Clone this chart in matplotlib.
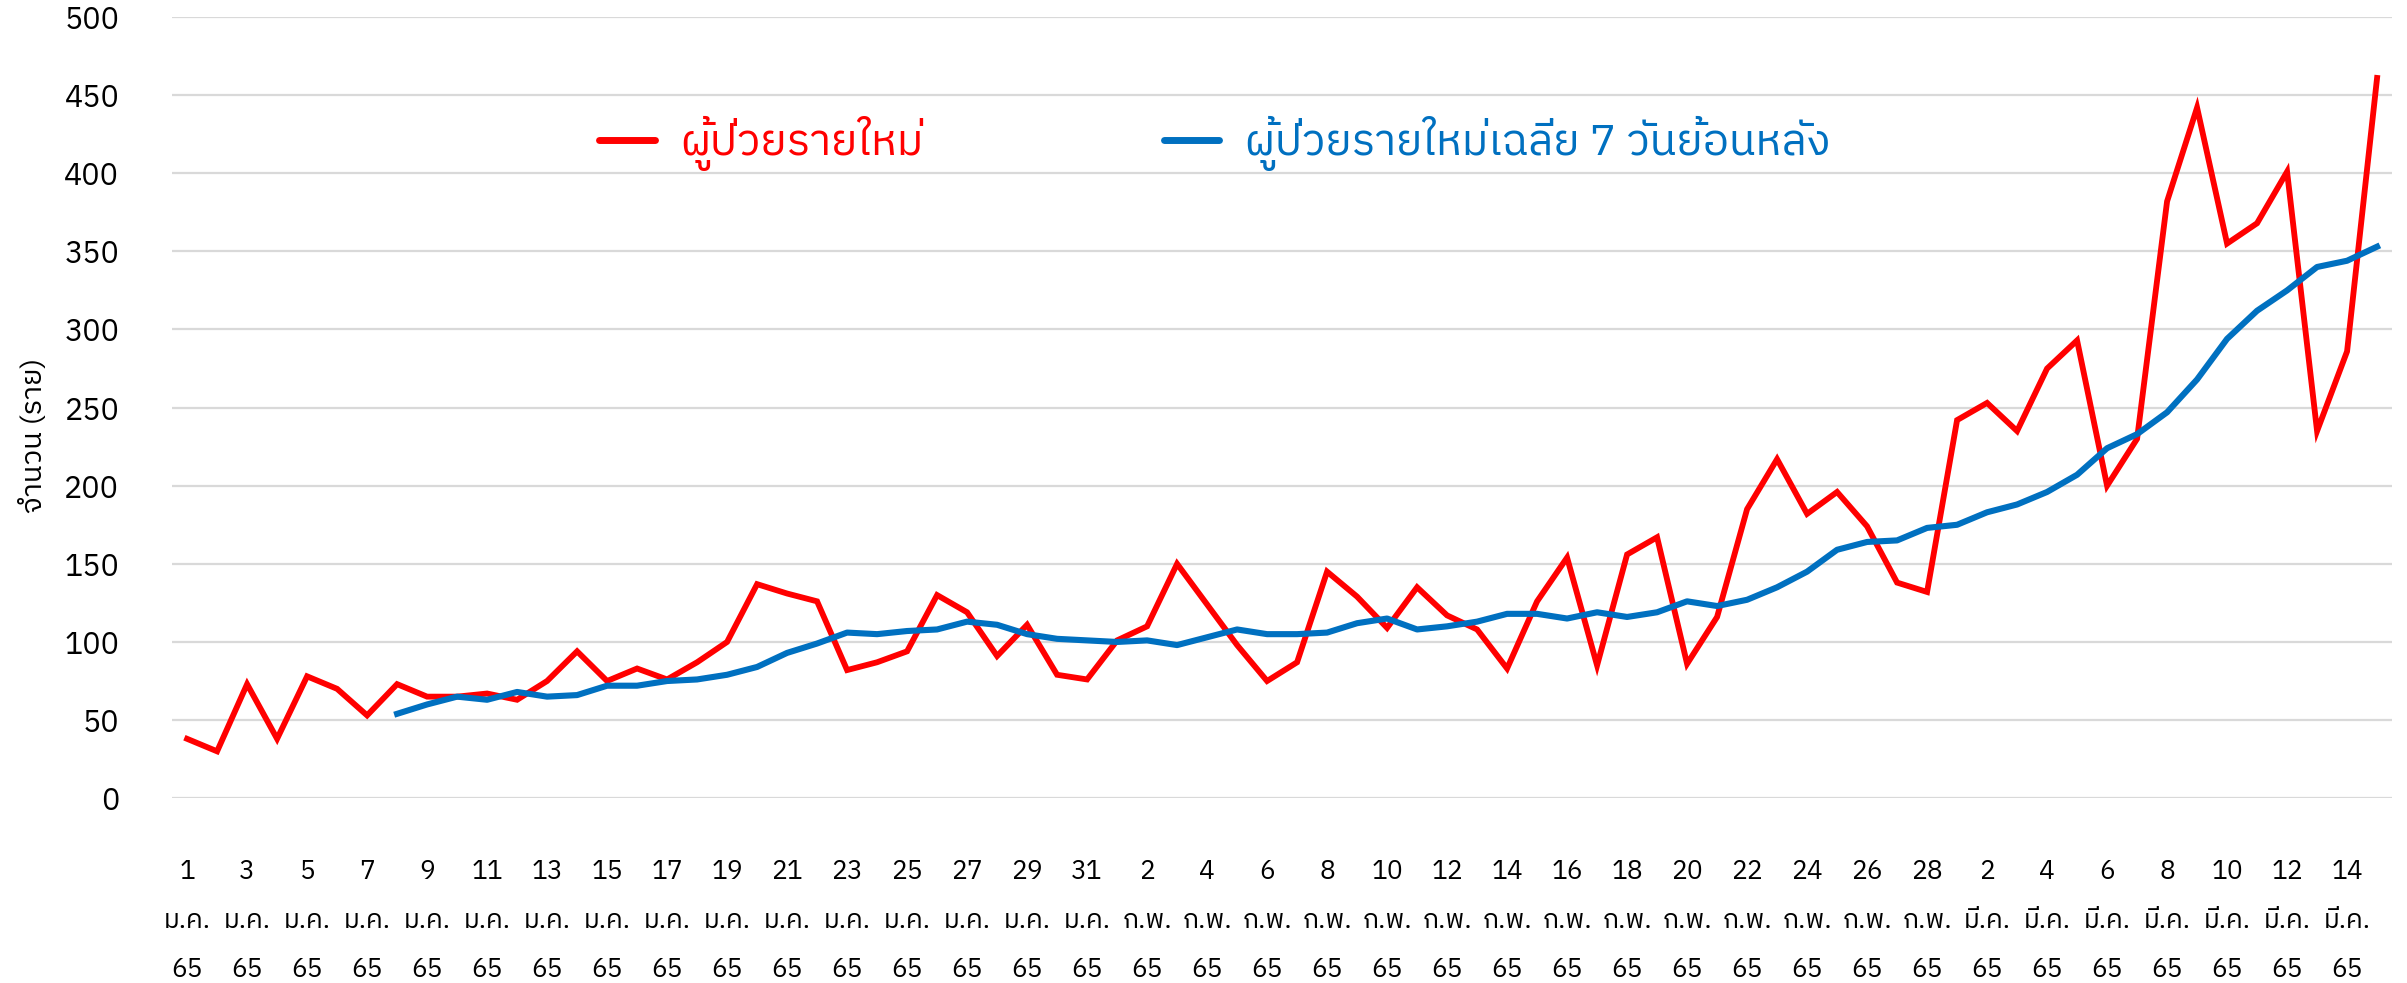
import numpy as np
import matplotlib
matplotlib.use("Agg")
import matplotlib.pyplot as plt
from matplotlib import font_manager
from matplotlib.ft2font import FT2Font

# ---------------- data ----------------
day_index = list(range(1, 75))  # 1 Jan 65 .. 15 Mar 65

new_cases = [38, 30, 73, 38, 78, 70, 53, 73, 65, 65, 67, 63, 75, 94, 75, 83, 76, 87, 100, 137,
             131, 126, 82, 87, 94, 130, 119, 91, 111, 79, 76, 101, 110, 150, 124, 98, 75, 87, 145, 129,
             109, 135, 117, 108, 83, 126, 154, 85, 156, 167, 86, 116, 185, 217, 182, 196, 174, 138, 132, 242,
             253, 235, 275, 293, 200, 230, 382, 442, 355, 368, 401, 235, 286, 461]

avg7 = [None, None, None, None, None, None, None, 54, 60, 65, 63, 68, 65, 66, 72, 72, 75, 76, 79, 84,
        93, 99, 106, 105, 107, 108, 113, 111, 105, 102, 101, 100, 101, 98, 103, 108, 105, 105, 106, 112,
        115, 108, 110, 113, 118, 118, 115, 119, 116, 119, 126, 123, 127, 135, 145, 159, 164, 165, 173, 175,
        183, 188, 196, 207, 224, 233, 247, 268, 294, 312, 325, 340, 344, 353]

tick_days = list(range(1, 75, 2))
tick_day_nums = ["1", "3", "5", "7", "9", "11", "13", "15", "17", "19", "21", "23", "25", "27", "29", "31",
                 "2", "4", "6", "8", "10", "12", "14", "16", "18", "20", "22", "24", "26", "28",
                 "2", "4", "6", "8", "10", "12", "14"]
tick_months = ["ม.ค."] * 16 + ["ก.พ."] * 14 + ["มี.ค."] * 7
tick_year = "65"

label_new = "ผู้ป่วยรายใหม่"
label_avg = "ผู้ป่วยรายใหม่เฉลี่ย 7 วันย้อนหลัง"
y_label = "จำนวน (ราย)"

# ---------------- font ----------------
def find_thai_family():
    best = None
    for f in font_manager.fontManager.ttflist:
        try:
            cmap = FT2Font(f.fname).get_charmap()
        except Exception:
            continue
        if 0x0E1C in cmap and 0x0E48 in cmap and 0x0E39 in cmap:
            score = 0
            if "thai" in f.name.lower():
                score += 10
            if "sans" in f.name.lower():
                score += 5
            if f.weight in (400, "normal", "regular"):
                score += 2
            if f.style == "normal":
                score += 2
            if best is None or score > best[0]:
                best = (score, f.name)
    return best[1] if best else None

thai = find_thai_family()
families = ([thai] if thai else []) + ["DejaVu Sans"]
plt.rcParams["font.family"] = families

# ---------------- plot ----------------
RED = "#FF0000"
BLUE = "#0070C0"

fig = plt.figure(figsize=(24.07, 9.83), dpi=100)
ax = fig.add_axes([0.0715, 0.188, 0.9223, 0.7947])

x = np.array(day_index)
ax.plot(x, new_cases, color=RED, lw=4.2, solid_joinstyle="miter", label=label_new, zorder=3)
avg_arr = np.array([np.nan if v is None else v for v in avg7], dtype=float)
ax.plot(x, avg_arr, color=BLUE, lw=4.4, solid_joinstyle="round", label=label_avg, zorder=4)

ax.set_xlim(0.5, 74.5)
ax.set_ylim(0, 500)
ax.set_yticks(np.arange(0, 501, 50))
ax.yaxis.grid(True, color="#d9d9d9", lw=1.6)
ax.set_axisbelow(True)
for s in ax.spines.values():
    s.set_visible(False)

ax.tick_params(axis="y", length=0, pad=38, labelsize=22)
ax.set_xticks(tick_days)
ax.set_xticklabels([f"{d}\n{m}\n{tick_year}" for d, m in zip(tick_day_nums, tick_months)],
                   fontsize=19, linespacing=2.2)
ax.tick_params(axis="x", length=0, pad=44)

ax.set_ylabel(y_label, fontsize=21)
ax.yaxis.set_label_coords(-0.056, 0.465)

leg = ax.legend(loc="center left", bbox_to_anchor=(0.1923, 0.838), ncol=2, frameon=False,
                fontsize=31.5, handlelength=1.27, handletextpad=0.58, columnspacing=5.5,
                borderpad=0, borderaxespad=0, labelcolor="linecolor")
for h in leg.legend_handles:
    h.set_linewidth(5)
    h.set_solid_capstyle("round")

fig.savefig("out.png", dpi=100, facecolor="white")
